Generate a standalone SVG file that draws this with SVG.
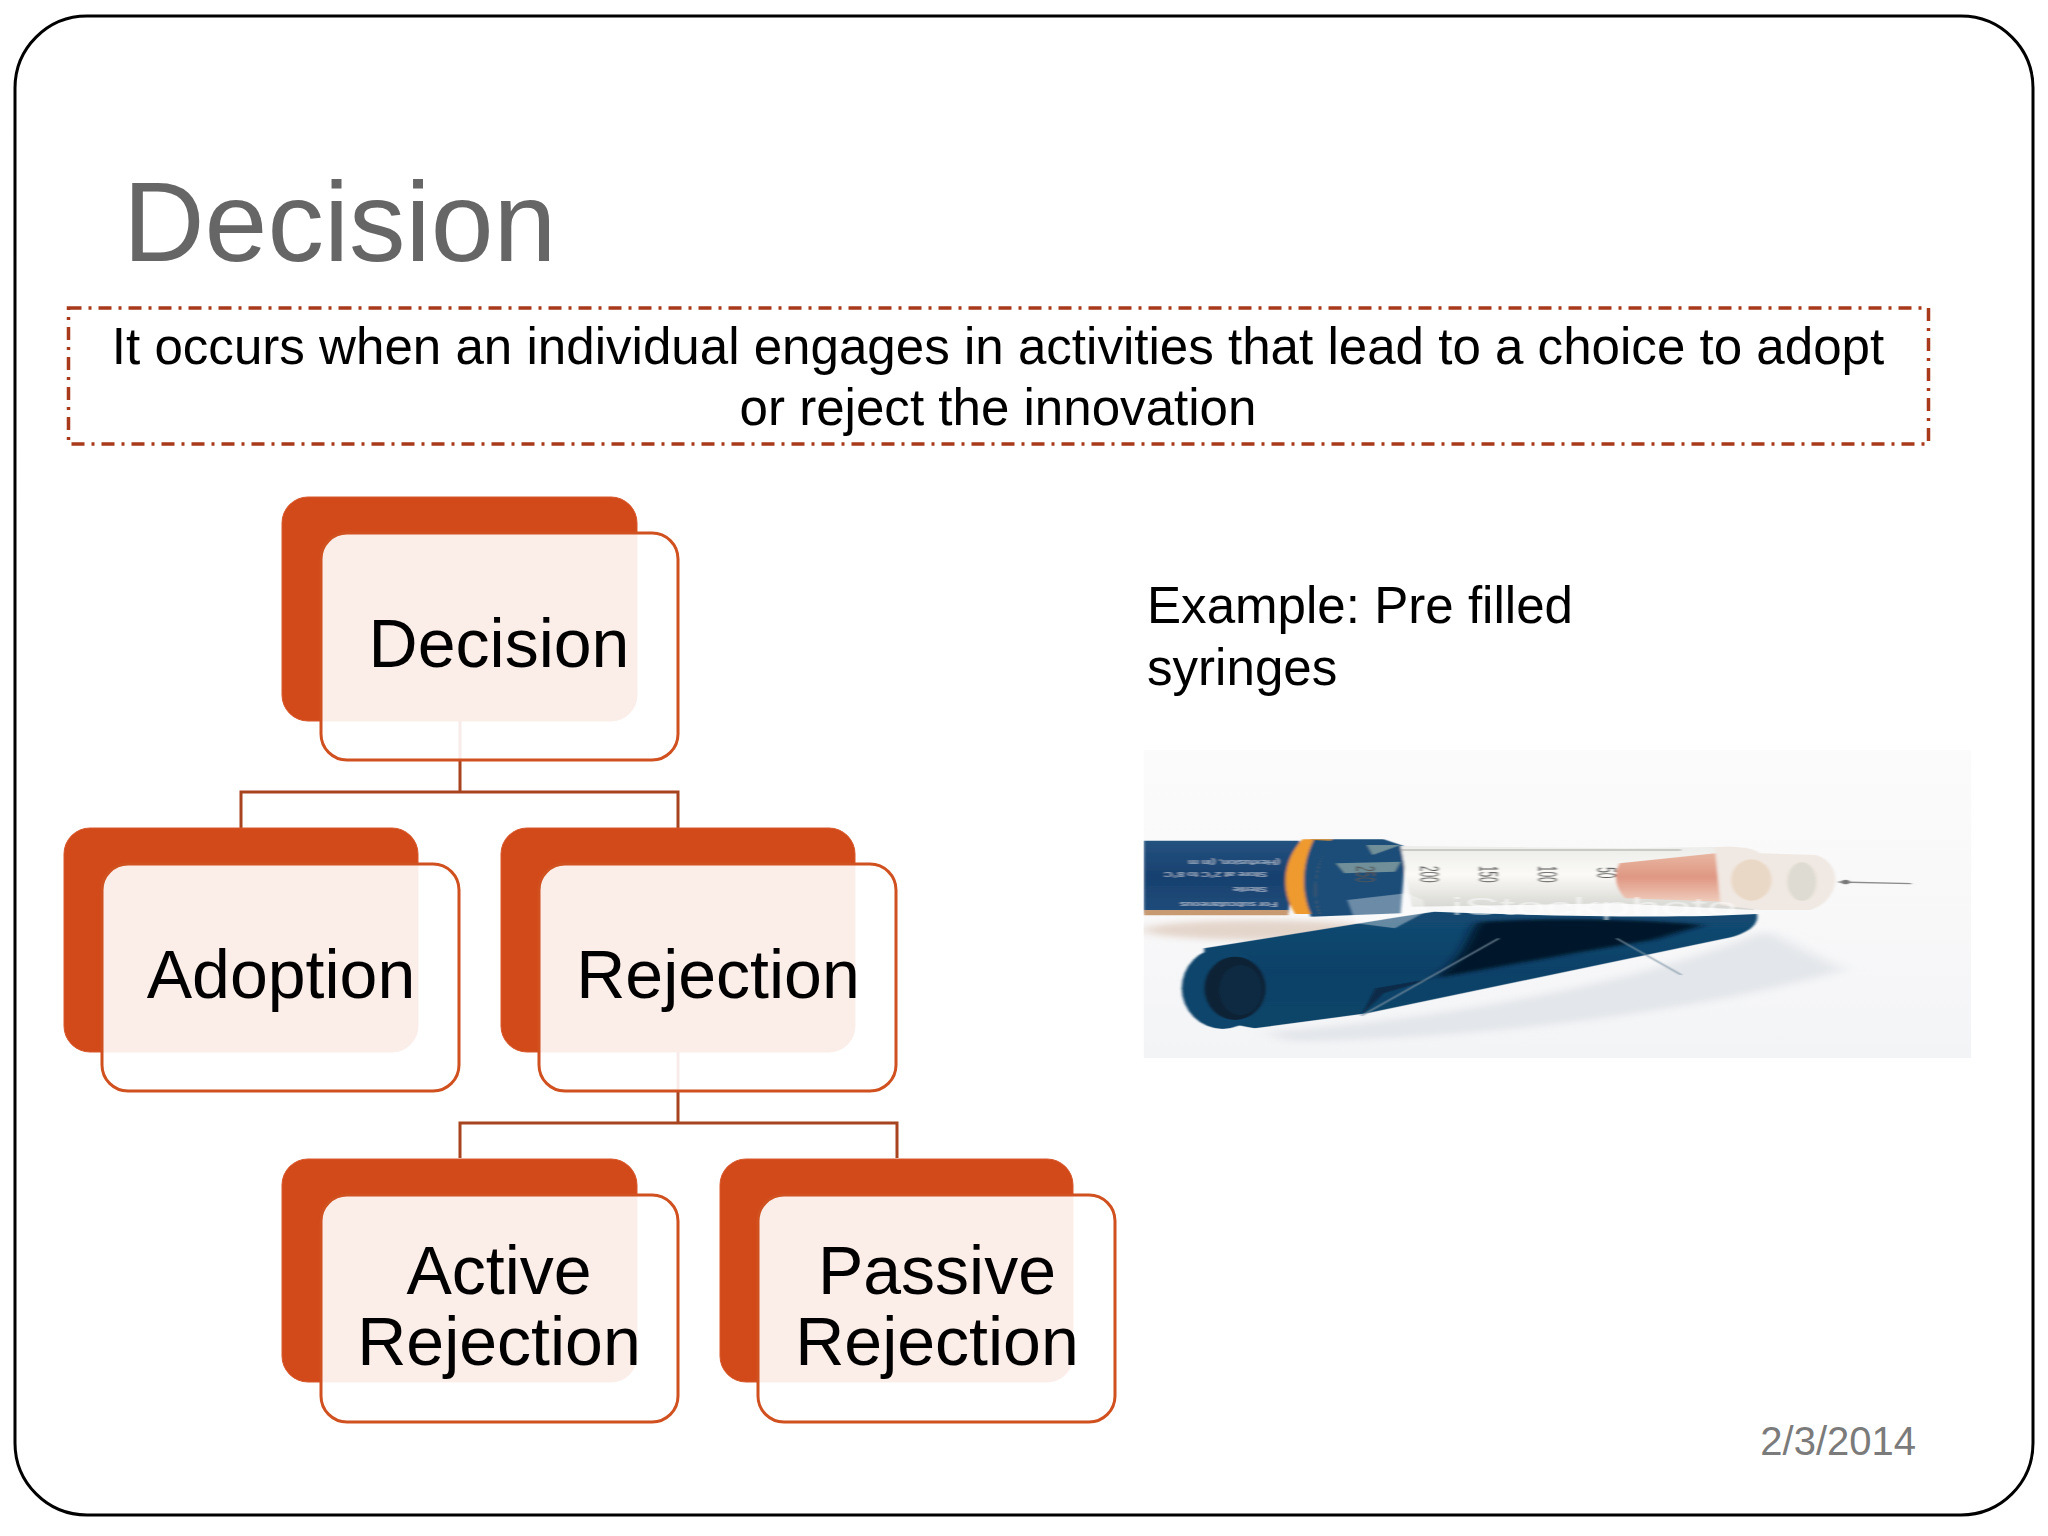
<svg xmlns="http://www.w3.org/2000/svg" width="2048" height="1536" viewBox="0 0 2048 1536">
<style>
text{font-family:"Liberation Sans",Arial,sans-serif}
.back{fill:#d24a1a;stroke:#d8562a;stroke-width:1}
.front{fill:#fff;fill-opacity:.9;stroke:#d0511f;stroke-width:3}
.lbl{font-size:68px;fill:#000;text-anchor:middle}
.body{font-size:51.100px;fill:#000}
.conn{fill:none;stroke:#a8431f;stroke-width:3}
.pt{font-family:"Liberation Sans",sans-serif}
</style>
<defs>
<clipPath id="photoclip"><rect x="42" y="60" width="1475" height="925"/></clipPath>
<filter id="b2" x="-10%" y="-10%" width="120%" height="120%"><feGaussianBlur stdDeviation="3 1.500"/></filter>
<filter id="b5" x="-30%" y="-30%" width="160%" height="160%"><feGaussianBlur stdDeviation="10 5"/></filter>
<filter id="b8" x="-30%" y="-60%" width="160%" height="220%"><feGaussianBlur stdDeviation="18 10"/></filter>
<linearGradient id="bg" x1="0" y1="0" x2="0" y2="1"><stop offset="0" stop-color="#fbfbfb"/><stop offset=".55" stop-color="#f8f8f9"/><stop offset="1" stop-color="#f3f4f6"/></linearGradient>
<linearGradient id="capg" x1="0" y1="0" x2="0" y2="1"><stop offset="0" stop-color="#124a72"/><stop offset=".5" stop-color="#0f4168"/><stop offset="1" stop-color="#114568"/></linearGradient>
<linearGradient id="pen" x1="0" y1="0" x2="0" y2="1"><stop offset="0" stop-color="#24527f"/><stop offset=".5" stop-color="#17406f"/><stop offset="1" stop-color="#1f4c7a"/></linearGradient>
<linearGradient id="glass" x1="0" y1="0" x2="0" y2="1"><stop offset="0" stop-color="#ececea"/><stop offset=".45" stop-color="#fbfaf6"/><stop offset="1" stop-color="#d4d4d0"/></linearGradient>
<linearGradient id="pink" x1="0" y1="0" x2="0" y2="1"><stop offset="0" stop-color="#e8b7a2"/><stop offset=".5" stop-color="#df9782"/><stop offset="1" stop-color="#efcbbb"/></linearGradient>
</defs>
<rect width="2048" height="1536" fill="#fff"/>
<rect id="frame" x="15" y="16" width="2018" height="1499" rx="72" ry="72" fill="#fff" stroke="#000" stroke-width="3"/>
<text id="title" x="123" y="261" font-size="113" fill="#666">Decision</text>
<g id="definition">
<rect x="68.500" y="308" width="1860" height="136" fill="none" stroke="#a8391a" stroke-width="3.500" stroke-dasharray="13 7 3 7"/>
<text class="body" x="998" y="364" text-anchor="middle">It occurs when an individual engages in activities that lead to a choice to adopt</text>
<text class="body" x="998" y="425" text-anchor="middle">or reject the innovation</text>
</g>
<g id="connectors">
<path class="conn" d="M460 721V792M241 828V792H678V828"/>
<path class="conn" d="M678 1051V1123M460 1158V1123H897V1158"/>
</g>
<g id="node-decision">
<rect class="back" x="282" y="497" width="355" height="224" rx="26"/>
<rect class="front" x="321" y="533" width="357" height="227" rx="26"/>
<text class="lbl" x="499" y="667">Decision</text>
</g>
<g id="node-adoption">
<rect class="back" x="64" y="828" width="354" height="224" rx="26"/>
<rect class="front" x="102" y="864" width="357" height="227" rx="26"/>
<text class="lbl" x="281" y="998">Adoption</text>
</g>
<g id="node-rejection">
<rect class="back" x="501" y="828" width="354" height="224" rx="26"/>
<rect class="front" x="539" y="864" width="357" height="227" rx="26"/>
<text class="lbl" x="718" y="998">Rejection</text>
</g>
<g id="node-active">
<rect class="back" x="282" y="1159" width="355" height="223" rx="26"/>
<rect class="front" x="321" y="1195" width="357" height="227" rx="26"/>
<text class="lbl" x="499" y="1294">Active</text>
<text class="lbl" x="499" y="1365">Rejection</text>
</g>
<g id="node-passive">
<rect class="back" x="720" y="1159" width="353" height="223" rx="26"/>
<rect class="front" x="758" y="1195" width="357" height="227" rx="26"/>
<text class="lbl" x="937" y="1294">Passive</text>
<text class="lbl" x="937" y="1365">Rejection</text>
</g>
<g id="example">
<text class="body" x="1147" y="623">Example: Pre filled</text>
<text class="body" x="1147" y="685">syringes</text>
</g>
<g id="photo" transform="translate(1120 730) scale(.5612 .3333)" clip-path="url(#photoclip)">
<rect x="42" y="60" width="1475" height="925" fill="url(#bg)"/>
<ellipse cx="250" cy="600" rx="210" ry="30" fill="#e4d5cb" filter="url(#b8)"/>
<path d="M260 905C500 880 900 780 1150 600L1290 720C1000 860 600 930 300 935Z" fill="#e3e6ea" filter="url(#b8)"/>
<g filter="url(#b2)">
<path d="M42 332H320L300 548H42Z" fill="url(#pen)"/>
<path d="M42 540H300V556H42Z" fill="#c89a72"/>
<g fill="#dfe6ee" font-size="24" class="pt" fill-opacity=".85">
<text transform="translate(262 470) rotate(180) scale(.9 1)">Sterile</text>
<text transform="translate(262 425) rotate(180) scale(.9 1)">Store at 2°C to 8°C</text>
<text transform="translate(285 390) rotate(180) scale(.9 1)">(Hexfusion, (in m</text>
<text transform="translate(280 515) rotate(180) scale(.9 1)">For subcutaneous</text>
</g>
<path d="M340 328H470L510 350 500 550 340 560C320 480 325 400 340 328Z" fill="#1a4d78"/>
<path d="M325 328H378C350 390 340 480 356 552H312C285 480 290 390 325 328Z" fill="#ee9a2e"/>
<path d="M345 330L378 332C350 390 340 480 356 552L340 552C322 480 325 400 345 330Z" fill="#1a4d78"/>
<path d="M385 400L500 395 490 425 400 430ZM440 345L500 345 450 375Z" fill="#6f8f99"/>
<path d="M500 348L900 355 1090 350 1130 540 880 520 520 530Z" fill="url(#glass)"/>
<path d="M500 360L1000 360" stroke="#bdbdb8" stroke-width="5" fill="none"/>
<path d="M890 400L1070 368 1080 515 900 505C880 470 880 430 890 400Z" fill="url(#pink)"/>
<path d="M1060 352C1110 345 1135 360 1140 370L1240 375C1290 400 1285 510 1230 540L1140 540 1070 525Z" fill="#f0e8e2"/>
<ellipse cx="1215" cy="455" rx="26" ry="58" fill="#dedbd2"/>
<ellipse cx="1125" cy="450" rx="36" ry="62" fill="#ead8c6"/>
<path d="M1280 456L1410 461" stroke="#8b8b8b" stroke-width="4" fill="none"/>
<circle cx="1293" cy="456" r="7" fill="#777"/>
<path d="M150 655L500 560 560 545C800 560 1000 565 1135 552 1140 590 1110 615 1080 625L440 850 240 895C180 880 160 850 150 800Z" fill="url(#capg)"/>
<ellipse cx="183" cy="775" rx="73" ry="122" fill="#10456c"/>
<ellipse cx="205" cy="775" rx="55" ry="95" fill="#0b2234"/>
<ellipse cx="215" cy="780" rx="38" ry="75" fill="#0e2c42"/>
<g fill="#555" font-size="30" class="pt">
<text transform="translate(420 408) rotate(90) scale(1 1.600)">250</text>
<text transform="translate(535 408) rotate(90) scale(1 1.600)">200</text>
<text transform="translate(640 408) rotate(90) scale(1 1.600)">150</text>
<text transform="translate(745 408) rotate(90) scale(1 1.600)">100</text>
<text transform="translate(850 412) rotate(90) scale(1 1.600)">50</text>
</g>
</g>
<path d="M560 745C620 680 620 600 640 575 800 560 950 570 1040 585 1000 605 980 615 950 630 800 670 680 710 560 745Z" fill="#06192c" filter="url(#b5)"/>
<path d="M430 855L455 775 560 745 470 790Z" fill="#0a2c48" filter="url(#b2)"/>
<path d="M430 858L675 625M885 625L1000 735" stroke="#7f95a5" stroke-width="3" fill="none" filter="url(#b2)"/>
<g filter="url(#b2)">
<text x="590" y="555" font-size="70" fill="#fff" fill-opacity=".5" class="pt" textLength="510" lengthAdjust="spacingAndGlyphs">iStockphoto</text>
<path d="M405 510L510 490 540 510 545 545 490 595 420 580Z" fill="#fff" fill-opacity=".35"/>
</g>
</g>
<text id="date" x="1916" y="1455" font-size="40" fill="#7b7b7b" text-anchor="end">2/3/2014</text>
</svg>
